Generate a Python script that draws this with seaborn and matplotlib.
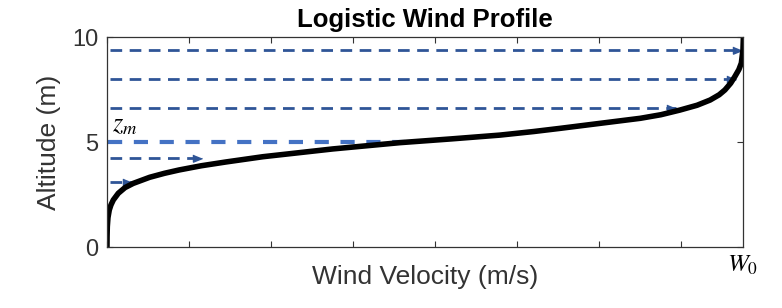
import matplotlib
matplotlib.use("Agg")
import matplotlib.pyplot as plt
import pandas as pd
import seaborn as sns

# wind velocity (normalised so W0 = 7.75) versus altitude
altitude = [0.0, 0.5, 0.97, 1.4, 1.76, 2.0, 2.24, 2.56, 2.83, 3.03, 3.32, 3.51,
            3.67, 3.87, 4.05, 4.3, 4.67, 4.97, 5.15, 5.33, 5.5, 5.65, 5.89, 6.13,
            6.3, 6.52, 6.75, 7.0, 7.25, 7.48, 7.8, 8.11, 8.45, 8.76, 9.4, 10.0]
velocity = [0.0, 0.001, 0.004, 0.012, 0.028, 0.048, 0.077, 0.138, 0.22, 0.32, 0.52, 0.70,
            0.88, 1.15, 1.45, 1.90, 2.75, 3.57, 4.2, 4.79, 5.2, 5.52, 6.01, 6.50,
            6.75, 6.98, 7.19, 7.35, 7.46, 7.53, 7.60, 7.65, 7.70, 7.73, 7.75, 7.755]

W0 = 7.75
z_m = 5.0
z_m_end = 3.63

# dashed arrows: altitude and where the arrow tip ends
arrow_alt = [9.38, 8.0, 6.62, 4.24, 3.1]
arrow_tip = [7.74, 7.66, 6.93, 1.16, 0.30]

x_ticks = [0, 1, 2, 3, 4, 5, 6, 7]
y_ticks = [0, 5, 10]

dark_blue = "#2F5597"
light_blue = "#4472C4"
grey = "#333333"

sns.set_theme(style="ticks")
plt.rcParams["font.family"] = ["Liberation Sans", "DejaVu Sans"]
plt.rcParams["mathtext.fontset"] = "stix"

df = pd.DataFrame({"Altitude": altitude, "Velocity": velocity})

fig = plt.figure(figsize=(7.82, 3.08), dpi=100)
ax = fig.add_axes([0.1368, 0.198, 0.8133, 0.6818])

for alt, tip in zip(arrow_alt, arrow_tip):
    ax.plot([0.04, tip], [alt, alt], color=dark_blue, lw=2,
            dashes=(4.2, 2.7), dash_capstyle="butt")
    ax.plot([tip], [alt], linestyle="none", color=dark_blue,
            marker=[(0, 0), (-1, -0.4), (-1, 0.4)], markersize=13)

ax.plot([0.01, z_m_end], [z_m, z_m], color=light_blue, lw=3,
        dashes=(3.4, 2.8), dash_capstyle="butt")

sns.lineplot(data=df, x="Velocity", y="Altitude", orient="y", estimator=None,
             color="black", lw=4, solid_joinstyle="round", ax=ax)

ax.set_xlim(0, W0)
ax.set_ylim(0, 10)
ax.set_xticks(x_ticks)
ax.set_xticklabels([])
ax.set_yticks(y_ticks)
ax.tick_params(direction="in", top=True, right=True, length=4, width=0.8,
               color=grey, labelcolor=grey, labelsize=17, pad=6)
for s in ax.spines.values():
    s.set_color(grey)
    s.set_linewidth(0.9)

ax.set_title("Logistic Wind Profile", fontsize=18.5, fontweight="bold",
             color="black", pad=7)
ax.set_xlabel("Wind Velocity (m/s)", fontsize=19, color=grey, labelpad=7)
ax.set_ylabel("Altitude (m)", fontsize=19, color=grey, labelpad=8)

ax.text(0.06, 5.8, "$z_m$", fontsize=19, va="center", ha="left", color="black")
ax.text(W0, -0.03, "$W_0$", fontsize=18, va="top", ha="center", color="black",
        transform=ax.get_xaxis_transform())

fig.savefig("out.png", dpi=100)
